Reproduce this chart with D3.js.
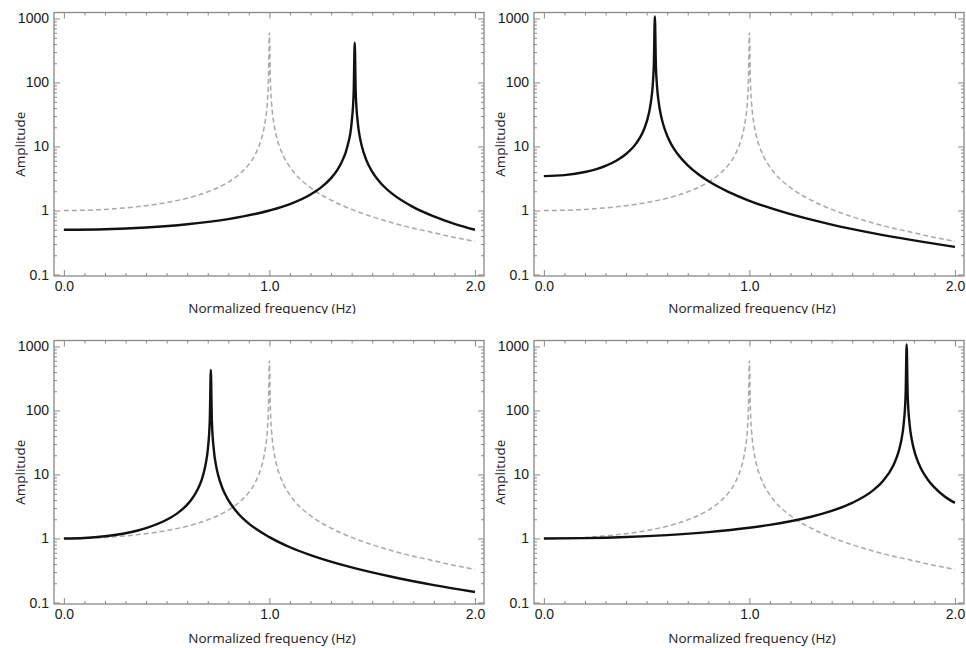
<!DOCTYPE html>
<html>
<head>
<meta charset="utf-8">
<script src="https://cdn.jsdelivr.net/npm/d3@7"></script>
<style>
  body { margin: 0; background: #fff; }
  svg { display: block; font-family: "Open Sans", sans-serif; }
  .tick text { fill: #1a1a1a; font-size: 14px; }
  .tick line { stroke: #888; stroke-width: 1; }
  .axis-title { fill: #1a1a1a; font-size: 13.5px; }
</style>
</head>
<body>
<svg width="966" height="648"></svg>
<script>
// axis ticks
const xTickValues = [0, 1, 2];
const xTickLabels = ["0.0", "1.0", "2.0"];
const yTickValues = [0.1, 1, 10, 100, 1000];
const yTickLabels = ["0.1", "1", "10", "100", "1000"];

// dashed reference response (same in every panel)
const refFreq = [0, 0.1, 0.2, 0.3, 0.4, 0.5, 0.6, 0.7, 0.8, 0.85, 0.9, 0.93, 0.95, 0.96, 0.97, 0.975, 0.98, 0.99, 0.995,
                 1.0, 1.005, 1.01, 1.02, 1.025, 1.03, 1.04, 1.05, 1.07, 1.1, 1.15, 1.2, 1.3, 1.4, 1.5, 1.6, 1.7, 1.8, 1.9, 2.0];
const refAmp  = [1, 1.01, 1.04, 1.1, 1.19, 1.33, 1.56, 1.96, 2.78, 3.6, 5.26, 7.4, 10.3, 12.8, 16.9, 20.3, 25.3, 50, 100,
                 600, 100, 50, 24.8, 19.8, 16.4, 12.3, 9.8, 6.9, 4.76, 3.1, 2.27, 1.45, 1.04, 0.8, 0.64, 0.53, 0.45, 0.38, 0.33];

// black curves, top-left, top-right, bottom-left, bottom-right
const p1Freq = [0, 0.2, 0.4, 0.6, 0.8, 1.0, 1.1, 1.2, 1.25, 1.3, 1.33, 1.35, 1.38, 1.4, 1.41, 1.415,
                1.42, 1.43, 1.44, 1.45, 1.47, 1.5, 1.55, 1.6, 1.7, 1.8, 1.9, 2.0];
const p1Amp  = [0.5, 0.51, 0.543, 0.61, 0.735, 1.0, 1.26, 1.78, 2.28, 3.21, 4.29, 5.57, 10.2, 23.7, 71, 420,
                70, 23.5, 14.0, 10, 6.31, 4.04, 2.5, 1.8, 1.13, 0.81, 0.62, 0.5];

const p2Freq = [0, 0.1, 0.2, 0.3, 0.35, 0.4, 0.45, 0.48, 0.5, 0.52, 0.53, 0.535, 0.54,
                0.545, 0.55, 0.56, 0.57, 0.58, 0.6, 0.62, 0.65, 0.7, 0.75, 0.8, 0.9, 1.0, 1.2, 1.4, 1.6, 1.8, 2.0];
const p2Amp  = [3.45, 3.57, 4.0, 4.99, 5.95, 7.64, 11.3, 16.4, 24.2, 47.5, 94, 187, 1080,
                185, 92, 45.8, 30.2, 22.5, 14.7, 10.8, 7.69, 5.07, 3.71, 2.89, 1.94, 1.42, 0.876, 0.603, 0.444, 0.341, 0.27];

const p3Freq = [0, 0.1, 0.2, 0.3, 0.4, 0.5, 0.55, 0.6, 0.62, 0.65, 0.67, 0.68, 0.69, 0.7, 0.71, 0.715,
                0.72, 0.73, 0.74, 0.75, 0.77, 0.78, 0.8, 0.85, 0.9, 1.0, 1.1, 1.2, 1.4, 1.6, 1.8, 2.0];
const p3Amp  = [1, 1.02, 1.085, 1.21, 1.455, 1.96, 2.45, 3.38, 4.03, 5.76, 8.2, 10.5, 14.6, 24.1, 72, 430,
                71, 23.6, 14.0, 9.96, 6.26, 5.26, 3.97, 2.42, 1.71, 1.05, 0.73, 0.55, 0.353, 0.25, 0.187, 0.146];

const p4Freq = [0, 0.2, 0.4, 0.6, 0.8, 1.0, 1.1, 1.2, 1.3, 1.4, 1.5, 1.6, 1.65, 1.7, 1.72, 1.73, 1.74, 1.75, 1.76, 1.765,
                1.77, 1.78, 1.79, 1.8, 1.81, 1.83, 1.85, 1.87, 1.9, 1.95, 2.0];
const p4Amp  = [1, 1.013, 1.054, 1.131, 1.259, 1.473, 1.635, 1.86, 2.19, 2.7, 3.6, 5.61, 7.94, 13.85, 19.9, 25.5, 35.6, 59.3, 179, 1080,
                174, 58.3, 35.0, 24.9, 19.3, 13.3, 10.1, 8.16, 6.29, 4.53, 3.6];

const curves = [[p1Freq, p1Amp], [p2Freq, p2Amp], [p3Freq, p3Amp], [p4Freq, p4Amp]];

const colStart = [54, 534];
const rowStart = [12.5, 340.5];
const width  = 430;
const height = 263.5;

const svg = d3.select("svg");

// the top row x-titles are cut at y = 314 in the source, clip in panel-local coords
svg.append("clipPath")
   .attr("id", "topcut")
   .append("rect")
   .attr("x", -60).attr("y", -20)
   .attr("width", 560).attr("height", 314 - rowStart[0] + 20);

const xScale = d3.scaleLinear()
                 .domain([-0.048, 2.044])
                 .range([0, width]);

const yScale = d3.scaleLog()
                 .domain([0.0948, 1241])
                 .range([height, 0]);

const minorX = d3.range(0, 2.001, 0.1).filter(v => Math.abs(v - Math.round(v)) > 1e-6);
const minorY = yScale.ticks().filter(v => !yTickValues.some(t => Math.abs(t - v) < 1e-9));

drawPanel = (i, freq, amp) => {

    const chart = svg.append("g")
                     .attr("transform", `translate(${colStart[i % 2]}, ${rowStart[Math.floor(i / 2)]})`);

    // minor ticks, all pointing inwards
    chart.append("g")
         .attr("transform", `translate(0, ${height})`)
         .call(d3.axisBottom(xScale).tickValues(minorX).tickSize(-3).tickFormat(""));
    chart.append("g")
         .call(d3.axisTop(xScale).tickValues(minorX).tickSize(-3).tickFormat(""));
    chart.append("g")
         .call(d3.axisLeft(yScale).tickValues(minorY).tickSize(-3).tickFormat(""));
    chart.append("g")
         .attr("transform", `translate(${width}, 0)`)
         .call(d3.axisRight(yScale).tickValues(minorY).tickSize(-3).tickFormat(""));

    // major ticks
    chart.append("g")
         .attr("transform", `translate(0, ${height})`)
         .call(d3.axisBottom(xScale).tickValues(xTickValues).tickSize(-6).tickPadding(5)
                 .tickFormat((d, k) => xTickLabels[k]));
    chart.append("g")
         .call(d3.axisTop(xScale).tickValues(xTickValues).tickSize(-6).tickFormat(""));
    chart.append("g")
         .call(d3.axisLeft(yScale).tickValues(yTickValues).tickSize(-6).tickPadding(5)
                 .tickFormat((d, k) => yTickLabels[k]));
    chart.append("g")
         .attr("transform", `translate(${width}, 0)`)
         .call(d3.axisRight(yScale).tickValues(yTickValues).tickSize(-6).tickFormat(""));

    chart.selectAll(".domain").remove();
    chart.selectAll(".tick text").attr("font-family", null).attr("font-size", null);

    chart.append("rect")
         .attr("width", width)
         .attr("height", height)
         .attr("fill", "none")
         .attr("stroke", "#888")
         .attr("stroke-width", 1.3);

    const line = d3.line()
                   .x(d => xScale(d[0]))
                   .y(d => yScale(d[1]))
                   .curve(d3.curveMonotoneX);

    chart.append("path")
         .datum(d3.zip(refFreq, refAmp))
         .attr("fill", "none")
         .attr("stroke", "#a8a8a8")
         .attr("stroke-width", 1.5)
         .attr("stroke-dasharray", "5,3")
         .attr("d", line);

    chart.append("path")
         .datum(d3.zip(freq, amp))
         .attr("fill", "none")
         .attr("stroke", "#111")
         .attr("stroke-width", 2.4)
         .attr("stroke-linejoin", "round")
         .attr("d", line);

    chart.append("text")
         .attr("class", "axis-title")
         .attr("transform", `translate(-34, ${height / 2}) rotate(-90)`)
         .attr("dy", "0.35em")
         .style("text-anchor", "middle")
         .text("Amplitude");

    const xTitle = chart.append("text")
                        .attr("class", "axis-title")
                        .attr("x", width / 2 + 3)
                        .attr("y", height + (i < 2 ? 37 : 39))
                        .style("text-anchor", "middle")
                        .text("Normalized frequency (Hz)");
    if (i < 2) xTitle.attr("clip-path", "url(#topcut)");
}

curves.forEach((c, i) => drawPanel(i, c[0], c[1]));
</script>
</body>
</html>
